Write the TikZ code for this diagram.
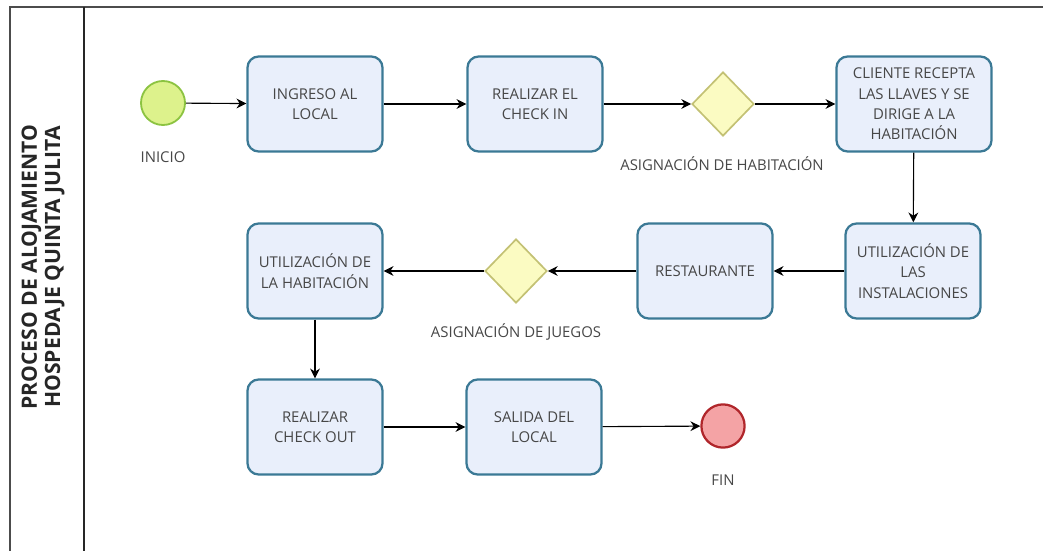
\documentclass[tikz,border=0pt]{standalone}
\usepackage{fontspec}
\setmainfont{Open Sans}
\usetikzlibrary{shapes.geometric}
\usetikzlibrary{arrows.meta}

\definecolor{boxfill}{HTML}{E9EFFB}
\definecolor{boxline}{HTML}{3B7995}
\definecolor{startfill}{HTML}{DDF28C}
\definecolor{startline}{HTML}{8CC341}
\definecolor{endfill}{HTML}{F4A3A5}
\definecolor{endline}{HTML}{B0262B}
\definecolor{gatefill}{HTML}{FBFBC2}
\definecolor{gateline}{HTML}{C3C174}
\definecolor{txt}{HTML}{474747}

\tikzset{
  tarea/.style = {draw = boxline, fill = boxfill, line width = 1.6pt,
    rounded corners = 0.28cm, minimum width = 3.375cm,
    minimum height = 2.375cm, align = center, text = txt,
    font = \fontsize{10.6}{14.5}\selectfont},
  compuerta/.style = {diamond, draw = gateline, fill = gatefill,
    line width = 1.2pt, minimum width = 1.55cm, minimum height = 1.6cm,
    inner sep = 0pt},
  etiqueta/.style = {text = txt, font = \fontsize{10.6}{12}\selectfont},
  flujo/.style = {-{Stealth[length = 7pt, width = 7pt]}, line width = 0.8pt,
    black}
}

\begin{document}
\begin{tikzpicture}[x = 0.025cm, y = -0.025cm]
  \useasboundingbox (0, 0) rectangle (1043, 551);

  % marco del carril
  \draw[line width = 1.3pt, black!70] (10, 551) -- (10, 7) -- (1043, 7);
  \draw[line width = 1.3pt, black!85] (84, 7) -- (84, 551);

  \node[rotate = 90, align = center, text = black!85,
    font = \fontsize{15}{16.5}\selectfont\bfseries] (titulo) at (43, 267)
    {PROCESO DE ALOJAMIENTO\\HOSPEDAJE QUINTA JULITA};

  % primera fila
  \node[circle, draw = startline, fill = startfill, line width = 1.3pt,
    minimum size = 1.1cm] (inicio) at (163, 103) {};
  \node[etiqueta] (inicioTxt) at (163, 157) {INICIO};

  \node[tarea] (ingreso) at (315, 104) {INGRESO AL\\LOCAL};
  \node[tarea] (checkin) at (535, 104) {REALIZAR EL\\CHECK IN};
  \node[compuerta] (asigHab) at (723, 104) {};
  \node[etiqueta] (asigHabTxt) at (722, 164) {ASIGNACIÓN DE HABITACIÓN};
  \node[tarea, minimum width = 3.875cm] (cliente) at (914, 104)
    {CLIENTE RECEPTA\\LAS LLAVES Y SE\\DIRIGE A LA\\HABITACIÓN};

  % segunda fila
  \node[tarea] (instal) at (913, 271) {UTILIZACIÓN DE\\LAS\\INSTALACIONES};
  \node[tarea] (restaurante) at (705, 271) {RESTAURANTE};
  \node[compuerta] (asigJuegos) at (516, 271) {};
  \node[etiqueta] (asigJuegosTxt) at (516, 332) {ASIGNACIÓN DE JUEGOS};
  \node[tarea] (usoHab) at (315, 271) {UTILIZACIÓN DE\\LA HABITACIÓN};

  % tercera fila
  \node[tarea] (checkout) at (315, 427) {REALIZAR\\CHECK OUT};
  \node[tarea] (salida) at (534, 427) {SALIDA DEL\\LOCAL};
  \node[circle, draw = endline, fill = endfill, line width = 1.6pt,
    minimum size = 1.08cm] (fin) at (723, 426) {};
  \node[etiqueta] (finTxt) at (723, 480) {FIN};

  % flujos
  \draw[flujo] (inicio) -- (ingreso);
  \draw[flujo] (ingreso) -- (checkin);
  \draw[flujo] (checkin) -- (asigHab);
  \draw[flujo] (asigHab) -- (cliente);
  \draw[flujo] (cliente) -- (instal);
  \draw[flujo] (instal) -- (restaurante);
  \draw[flujo] (restaurante) -- (asigJuegos);
  \draw[flujo] (asigJuegos) -- (usoHab);
  \draw[flujo] (usoHab) -- (checkout);
  \draw[flujo] (checkout) -- (salida);
  \draw[flujo] (salida) -- (fin);
\end{tikzpicture}
\end{document}
